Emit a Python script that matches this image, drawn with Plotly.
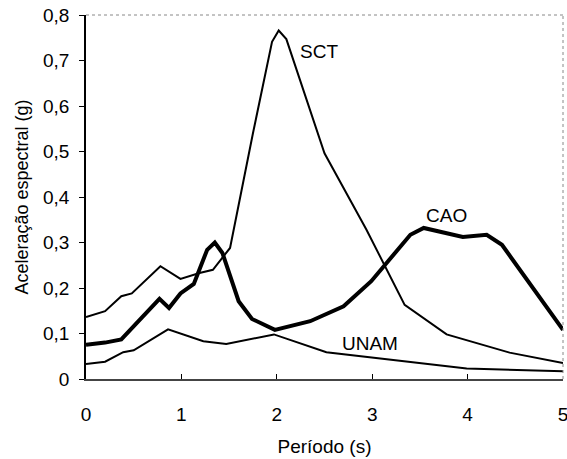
import plotly.graph_objects as go

# SCT series
sct_x = [0.0, 0.2, 0.37, 0.48, 0.78, 0.99, 1.19, 1.33, 1.51, 1.61, 1.75, 1.95, 2.02, 2.1, 2.5, 2.94, 3.34, 3.78, 4.44, 5.0]
sct_y = [0.136, 0.149, 0.182, 0.188, 0.248, 0.22, 0.233, 0.24, 0.288, 0.394, 0.54, 0.741, 0.766, 0.747, 0.496, 0.328, 0.163, 0.098, 0.058, 0.035]

# CAO series
cao_x = [0.0, 0.2, 0.37, 0.77, 0.87, 0.99, 1.13, 1.27, 1.35, 1.43, 1.6, 1.74, 1.98, 2.35, 2.7, 2.99, 3.4, 3.54, 3.95, 4.2, 4.36, 5.0]
cao_y = [0.075, 0.08, 0.087, 0.176, 0.156, 0.188, 0.209, 0.284, 0.3, 0.277, 0.171, 0.132, 0.108, 0.127, 0.16, 0.215, 0.317, 0.332, 0.312, 0.317, 0.295, 0.108]

# UNAM series
unam_x = [0.0, 0.2, 0.39, 0.5, 0.86, 1.23, 1.47, 1.97, 2.52, 3.43, 3.99, 5.0]
unam_y = [0.033, 0.038, 0.059, 0.063, 0.109, 0.083, 0.077, 0.098, 0.059, 0.036, 0.023, 0.017]

x_ticks = [0, 1, 2, 3, 4, 5]
y_ticks = [0, 0.1, 0.2, 0.3, 0.4, 0.5, 0.6, 0.7, 0.8]
y_tick_text = ["0", "0,1", "0,2", "0,3", "0,4", "0,5", "0,6", "0,7", "0,8"]

FONT = "Liberation Sans, Arial, sans-serif"
FS = 19

fig = go.Figure()
fig.add_trace(go.Scatter(x=sct_x, y=sct_y, mode="lines", line=dict(color="black", width=2), name="SCT"))
fig.add_trace(go.Scatter(x=cao_x, y=cao_y, mode="lines", line=dict(color="black", width=4), name="CAO"))
fig.add_trace(go.Scatter(x=unam_x, y=unam_y, mode="lines", line=dict(color="black", width=2), name="UNAM"))

fig.add_annotation(x=2.44, y=0.72, text="SCT", showarrow=False, font=dict(size=FS, color="black", family=FONT))
fig.add_annotation(x=3.78, y=0.359, text="CAO", showarrow=False, font=dict(size=FS, color="black", family=FONT))
fig.add_annotation(x=2.98, y=0.079, text="UNAM", showarrow=False, font=dict(size=FS, color="black", family=FONT))

# dotted top and right border
fig.add_shape(type="line", xref="paper", yref="paper", x0=0, x1=1, y0=1, y1=1,
              line=dict(color="#888888", width=1, dash="dot"))
fig.add_shape(type="line", xref="paper", yref="paper", x0=1, x1=1, y0=0, y1=1,
              line=dict(color="#888888", width=1, dash="dot"))

fig.update_layout(
    width=567, height=459,
    margin=dict(l=86, r=4, t=15, b=80),
    paper_bgcolor="white", plot_bgcolor="white",
    showlegend=False,
    font=dict(family=FONT, size=FS, color="black"),
    xaxis=dict(
        range=[0, 5], tickvals=x_ticks, ticks="inside", ticklen=5, tickcolor="black",
        showline=True, linecolor="#444444", linewidth=1.5, showgrid=False, zeroline=False,
        ticklabelstandoff=17, ticklabeloverflow="allow", automargin=False,
        title=dict(text="Período (s)", font=dict(size=FS), standoff=16),
    ),
    yaxis=dict(
        range=[0, 0.8], tickvals=y_ticks, ticktext=y_tick_text, ticks="outside", ticklen=5,
        tickcolor="black", showline=True, linecolor="black", linewidth=1.5, showgrid=False,
        zeroline=False, ticklabelstandoff=6, automargin=False,
        title=dict(text="Aceleração espectral (g)", font=dict(size=18), standoff=10),
    ),
)

fig.write_html("out.html")
